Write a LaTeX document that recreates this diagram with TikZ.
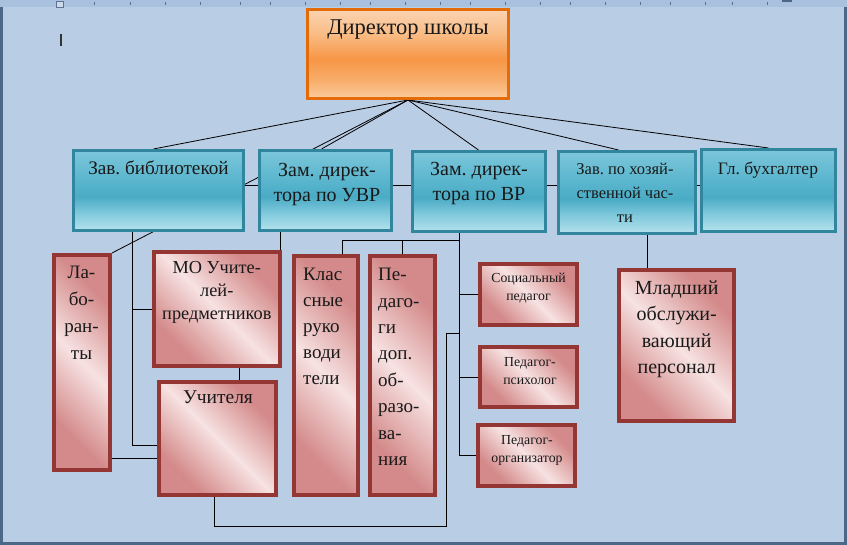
\documentclass[tikz,border=0pt]{standalone}
\usepackage{fontspec}
\setmainfont{Liberation Serif}
\usetikzlibrary{shadows,calc}
\pgfdeclarelayer{back}
\pgfdeclarelayer{wires}
\pgfsetlayers{back,wires,main}

\definecolor{pagebg}{HTML}{B9CDE5}
\definecolor{rulerbg}{HTML}{A9C0DE}
\definecolor{edgec}{HTML}{4D6786}
\definecolor{tickc}{HTML}{5E7390}
\definecolor{bluebd}{HTML}{31859C}
\definecolor{bluetop}{HTML}{7CC6DA}
\definecolor{bluemid2}{HTML}{5CB7CF}
\definecolor{bluedark}{HTML}{4AABC5}
\definecolor{bluemid}{HTML}{80C9DC}
\definecolor{bluebot}{HTML}{B5E1EC}
\definecolor{orbd}{HTML}{E36C09}
\definecolor{ortop}{HTML}{FBD3B2}
\definecolor{ormid2}{HTML}{F9BE88}
\definecolor{ordark}{HTML}{F79646}
\definecolor{ormid}{HTML}{F8AE6C}
\definecolor{orbot}{HTML}{FBCB9C}
\definecolor{redbd}{HTML}{943634}
\definecolor{rdk}{HTML}{D48A8A}
\definecolor{rlt}{HTML}{F7E2E2}

\pgfdeclareverticalshading{blueshade}{100bp}{color(0bp)=(bluebot); color(25bp)=(bluebot); color(36bp)=(bluemid); color(46bp)=(bluedark); color(58bp)=(bluemid2); color(75bp)=(bluetop); color(100bp)=(bluetop)}
\pgfdeclareverticalshading{orangeshade}{100bp}{color(0bp)=(orbot); color(25bp)=(orbot); color(35bp)=(ormid); color(47bp)=(ordark); color(62bp)=(ormid2); color(75bp)=(ortop); color(100bp)=(ortop)}
\pgfdeclarehorizontalshading{redshade}{100bp}{color(0bp)=(rdk); color(28bp)=(rdk); color(50bp)=(rlt); color(72bp)=(rdk); color(100bp)=(rdk)}

\frenchspacing
\newcommand\fs[2]{\fontsize{#1}{#2}\selectfont}
% style, name, x1, y1, x2, y2, line width
\newcommand\orgbox[7]{%
  \pgfmathsetmacro\obcx{(#3+#5)/2}%
  \pgfmathsetmacro\obcy{(#4+#6)/2}%
  \pgfmathsetmacro\obw{#5-#3-#7}%
  \pgfmathsetmacro\obh{#6-#4-#7}%
  \node[#1, line width=#7pt, minimum width=\obw pt, minimum height=\obh pt] (#2) at (\obcx,\obcy) {};%
}

\tikzset{
  boxshadow/.style={drop shadow={shadow xshift=1.2pt, shadow yshift=-1.8pt, fill=black, opacity=0.35}},
  dirbox/.style={draw=orbd, shading=orangeshade, inner sep=0, boxshadow},
  bluebox/.style={draw=bluebd, shading=blueshade, inner sep=0, boxshadow},
  redbox/.style={draw=redbd, shading=redshade, shading angle=45, inner sep=0, boxshadow},
  lbl/.style={inner sep=0, anchor=north, align=center, text=black!90},
  lbll/.style={inner sep=0, anchor=north west, align=left, text=black!90},
  wire/.style={draw=black, line width=0.9pt},
}

\begin{document}
\begin{tikzpicture}[x=1pt, y=-1pt]
\useasboundingbox (0,0) rectangle (847,545);
\begin{pgfonlayer}{back}
  \fill[pagebg] (0,0) rectangle (847,545);
  \fill[rulerbg] (0,0) rectangle (847,7);
  \foreach \t in {94,130,165,200,240,270,305,340,370,405,440,470,505,540,570,605,640,670,705,732,767} {
    \draw[tickc, line width=0.6pt] (\t,2) -- (\t,5);
  }
  \draw[tickc, fill=rulerbg!60!white, line width=0.6pt] (56,1) rectangle (63,7);
  \fill[edgec] (782,0) rectangle (792,2);
  \fill[edgec] (0,7) rectangle (2.5,545);
  \fill[edgec] (844,7) rectangle (847,545);
  \fill[edgec] (0,542) rectangle (847,545);
  \draw[black!80, line width=1.3pt] (61,34) -- (61,46);
\end{pgfonlayer}

% boxes
\orgbox{dirbox}{dir}{306}{8}{510}{100}{3}
\orgbox{bluebox}{zb}{72}{149}{245}{232}{3}
\orgbox{bluebox}{uvr}{258}{149}{393}{232}{3}
\orgbox{bluebox}{vr}{411}{150}{547}{233}{3}
\orgbox{bluebox}{hoz}{557}{150}{697}{235}{3}
\orgbox{bluebox}{buh}{700}{148}{837}{233}{3}
\orgbox{redbox}{lab}{52}{253}{112}{472}{4}
\orgbox{redbox}{mo}{152}{250}{282}{368}{4}
\orgbox{redbox}{uch}{157}{380}{278}{497}{4}
\orgbox{redbox}{kl}{292}{254}{360}{497}{4}
\orgbox{redbox}{ped}{368}{254}{437}{497}{4}
\orgbox{redbox}{soc}{478}{262}{579}{327}{4}
\orgbox{redbox}{psy}{478}{345}{579}{409}{4}
\orgbox{redbox}{org}{476}{423}{577}{488}{4}
\orgbox{redbox}{ml}{617}{268}{736}{423}{4}

% texts
\node[lbl, font=\fs{22.5}{26}] (dirt) at (408,20) {Директор школы};
\node[lbl, font=\fs{19.2}{25}] (zbt) at (158.5,161) {Зав. библиотекой};
\node[lbl, font=\fs{20}{25}] (uvrt) at (327,163) {Зам. дирек-\\тора по УВР};
\node[lbl, font=\fs{20}{25}] (vrt) at (479,162) {Зам. дирек-\\тора по ВР};
\node[lbl, font=\fs{16.5}{24}] (hozt) at (625,163) {Зав. по хозяй-\\ственной час-\\ти};
\node[lbl, font=\fs{17.5}{25}] (buht) at (768,162) {Гл. бухгалтер};
\node[lbl, font=\fs{19}{27}] (labt) at (81.5,266) {Ла-\\бо-\\ран-\\ты};
\node[lbl, font=\fs{18.3}{23.3}] (mot) at (216.8,261) {МО Учите-\\лей-\\предметников};
\node[lbl, font=\fs{19.5}{26}] (ucht) at (218,391) {Учителя};
\node[lbll, font=\fs{19}{26}] (klt) at (303,268) {Клас\\сные\\руко\\води\\тели};
\node[lbll, font=\fs{19}{26.4}] (pedt) at (378,268) {Пе-\\даго-\\ги\\доп.\\об-\\разо-\\ва-\\ния};
\node[lbl, font=\fs{13.8}{18.3}] (soct) at (528.5,273) {Социальный\\педагог};
\node[lbl, font=\fs{13.8}{18.3}] (psyt) at (530,357) {Педагог-\\психолог};
\node[lbl, font=\fs{13.8}{18.3}] (orgt) at (527,435) {Педагог-\\организатор};
\node[lbl, font=\fs{20}{26.1}] (mlt) at (676.7,281) {Младший\\обслужи-\\вающий\\персонал};

% connectors (behind boxes)
\coordinate (zbx) at (132,0);
\coordinate (busx) at (459,0);
\coordinate (uvrx) at (280,0);
\coordinate (loopx) at (446,0);
\begin{pgfonlayer}{wires}
  \draw[wire, line width=0.8pt] (dir.south) -- ([xshift=81.5pt]zb.north west);
  \draw[wire, line width=0.8pt] (dir.south) -- (lab.north east);
  \draw[wire, line width=0.8pt] (dir.south) -- ([xshift=63.5pt]uvr.north west);
  \draw[wire, line width=0.8pt] (dir.south) -- ([xshift=67.5pt]vr.north west);
  \draw[wire, line width=0.8pt] (dir.south) -- ([xshift=61.5pt]hoz.north west);
  \draw[wire, line width=0.8pt] (dir.south) -- ([xshift=68.5pt]buh.north west);
  \draw[wire] ([yshift=5pt]zb.east) -- ([yshift=5pt]buh.west);
  % library branch
  \draw[wire] (zb.south -| zbx) |- ([yshift=-6.5pt]uch.west);
  \draw[wire] (mo.west -| zbx) -- (mo.west);
  \draw[wire] ([yshift=-19.5pt]uch.west) -- ([yshift=-19.5pt]uch.west -| lab.east);
  % UVR branch
  \draw[wire] (uvr.south -| uvrx) -- (mo.north -| uvrx);
  \draw[wire] ([xshift=22pt]mo.south) -- ([xshift=22pt]mo.south |- uch.north);
  % VR branch
  \draw[wire] (vr.south -| busx) |- (org.west);
  \draw[wire] (soc.west -| busx) -- (soc.west);
  \draw[wire] (psy.west -| busx) -- (psy.west);
  \draw[wire] ([yshift=-7pt]vr.south -| busx) -| ([xshift=16pt]kl.north);
  \draw[wire] ([yshift=-7pt]vr.south -| ped.north) -- (ped.north);
  \draw[wire] ([xshift=-3.5pt]uch.south) |- ([yshift=-29pt]uch.south -| loopx) |- ([yshift=-100pt]vr.south -| busx);
  % household branch
  \draw[wire] ([xshift=20pt]hoz.south) -- ([xshift=20pt]hoz.south |- ml.north);
\end{pgfonlayer}
\end{tikzpicture}
\end{document}
